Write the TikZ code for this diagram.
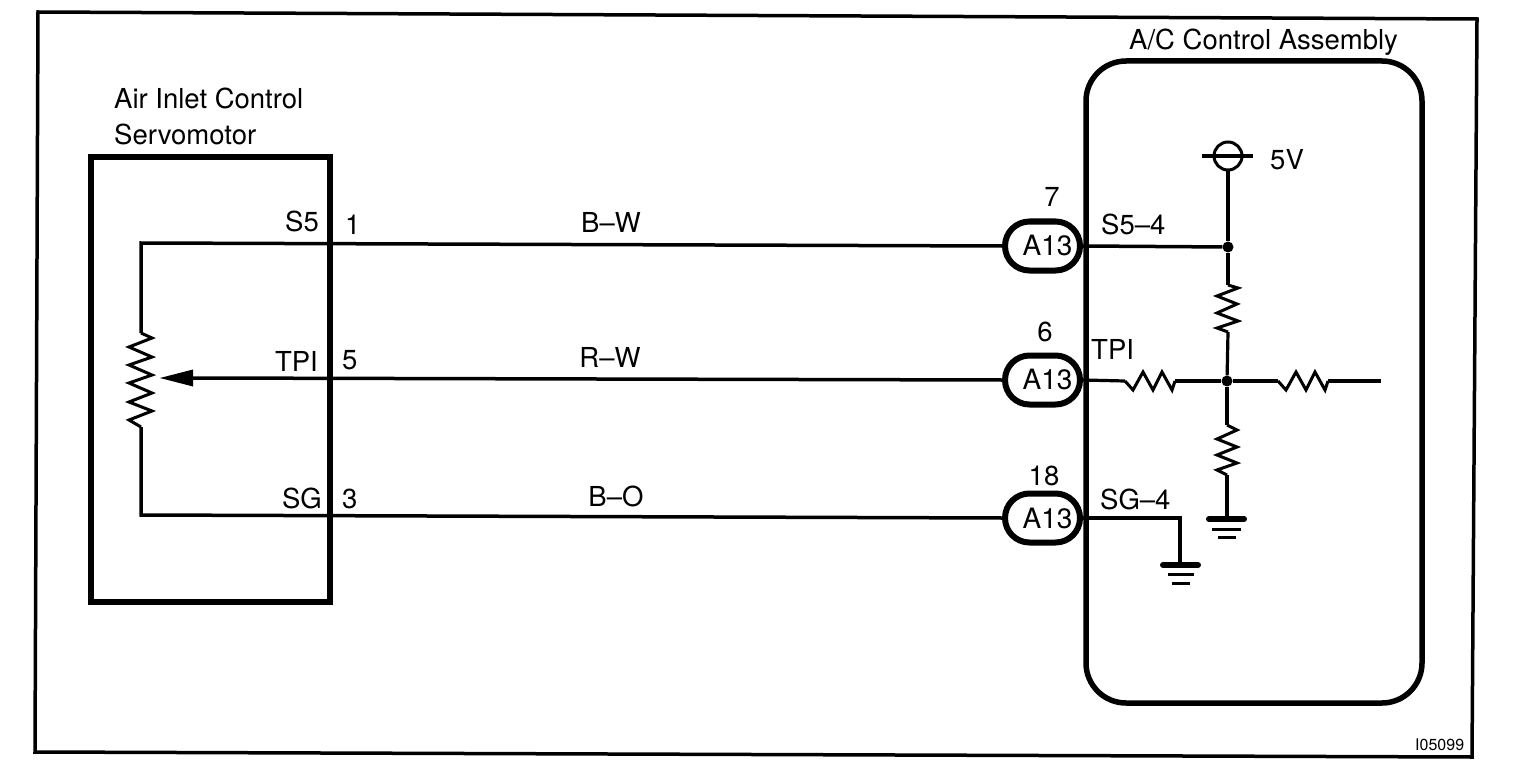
\documentclass[tikz,border=0pt]{standalone}
\usepackage{fontspec}
\setmainfont{TeX Gyre Heros}
\usetikzlibrary{shapes.misc}
\tikzset{
  framebox/.style={line width=3.5pt,line join=miter},
  heavy/.style={line width=5.5pt,outer sep=0pt},
  wire/.style={line width=3.5pt},
  thin wire/.style={line width=3.2pt,line join=miter},
  zig/.style={line width=3pt,line join=miter},
  pill/.style={rounded rectangle,draw,line width=6pt,fill=white,minimum width=75pt,minimum height=49pt,inner sep=0pt,font=\fontsize{28}{30}\selectfont},
  lab/.style={inner sep=0pt,yshift=-1.2pt,font=\fontsize{27.5}{30}\selectfont},
  dotn/.style={circle,fill=black,inner sep=0pt,minimum size=11pt},
  gbar/.style={line width=6pt,line cap=round},
  gbar2/.style={line width=3pt}
}
\begin{document}
\begin{tikzpicture}[x=1pt,y=-1pt]
\useasboundingbox (0,0) rectangle (1520,778);
\fill[white] (0,0) rectangle (1520,778);
% outer frame
\draw[framebox] (38,12) -- (1477,19) -- (1472,757) -- (35,752) -- cycle;
% boxes
\node[draw,heavy,rectangle,inner sep=0pt,anchor=north west,minimum width=239pt,minimum height=445pt] (servo) at (91,157) {};
\node[draw,heavy,rounded corners=40pt,inner sep=0pt,anchor=north west,minimum width=336pt,minimum height=642pt] (acu) at (1086,61) {};
% pills
\node[pill] (p1) at (1042.5,246) {\hspace*{10pt}A13};
\node[pill] (p2) at (1042.5,380) {\hspace*{10pt}A13};
\node[pill] (p3) at (1042.5,518) {\hspace*{10pt}A13};
% left loop
\coordinate (s5l) at (141,243);
\coordinate (tpil) at (193,378);
\coordinate (sgl) at (141,515);
\coordinate (pt) at (141,333);
\coordinate (pb) at (141,427);
\draw[wire] (pt) -- (s5l) -- (p1.west);
\draw[wire] (tpil) -- (p2.west);
\draw[wire] (pb) -- (sgl) -- (p3.west);
\draw[zig] (pt) -- (152,338) -- (129,347) -- (152,357) -- (129,365) -- (152,375) -- (129,383) -- (152,393) -- (129,402) -- (152,411) -- (129,420) -- (pb);
\fill (160,378) -- (193,369.5) -- (193,386.5) -- cycle;
% right circuit
\node[dotn] (j1) at (1228,247) {};
\node[dotn] (j2) at (1227,381) {};
\node[circle,draw,line width=3pt,minimum size=28pt,inner sep=0pt] (vcc) at (1228,156) {};
\coordinate (vl) at (1202,156);
\coordinate (vr) at (1253,156);
\draw[thin wire] (vl) -- (vr);
\draw[wire] (p1.east) -- (j1);
\draw[thin wire] (vcc.south) -- (j1);
\coordinate (r1a) at (1228,285);
\coordinate (r1b) at (1228,332);
\draw[thin wire] (j1) -- (r1a);
\draw[zig] (r1a) -- (1238,288) -- (1217,296) -- (1237,304) -- (1217,313) -- (1238,321) -- (1217,328) -- (r1b);
\draw[thin wire] (r1b) -- (j2);
\coordinate (r2a) at (1125,381);
\coordinate (r2b) at (1175,381);
\draw[thin wire] (p2.east) -- (r2a);
\draw[zig] (r2a) -- (1133,390) -- (1143,372) -- (1153,390) -- (1162,372) -- (1172,390) -- (r2b);
\draw[thin wire] (r2b) -- (j2);
\coordinate (r3a) at (1278,381);
\coordinate (r3b) at (1328,381);
\coordinate (rend) at (1381,381);
\draw[thin wire] (j2) -- (r3a);
\draw[zig] (r3a) -- (1286,390) -- (1296,372) -- (1306,390) -- (1315,372) -- (1325,390) -- (r3b);
\draw[thin wire] (r3b) -- (rend);
\coordinate (r4a) at (1227,425);
\coordinate (r4b) at (1227,475);
\coordinate (g1) at (1227,519);
\draw[thin wire] (j2) -- (r4a);
\draw[zig] (r4a) -- (1237,430) -- (1217,439) -- (1237,447) -- (1217,455) -- (1237,463) -- (1217,470) -- (r4b);
\draw[thin wire] (r4b) -- (g1);
\draw[gbar] (1209,519) -- (1244,519);
\draw[gbar2] (1212,529) -- (1241,529);
\draw[gbar2] (1218,537) -- (1236,537);
\coordinate (g2c) at (1180,518);
\coordinate (g2) at (1180,565);
\draw[thin wire] (p3.east) -- (g2c) -- (g2);
\draw[gbar] (1163,565) -- (1198,565);
\draw[gbar2] (1168,574) -- (1194,574);
\draw[gbar2] (1172,583) -- (1190,583);
% labels
\node[lab,anchor=base west] (t1) at (114,107) {Air Inlet Control};
\node[lab,anchor=base west] (t2) at (114,143) {Servomotor};
\node[lab,anchor=base west] (t3) at (1129,48) {A/C Control Assembly};
\node[lab,anchor=base east] (t4) at (319,230) {S5};
\node[lab,anchor=base west] (t5) at (345,233) {1};
\node[lab,anchor=base east] (t6) at (318,370) {TPI};
\node[lab,anchor=base west] (t7) at (342,368) {5};
\node[lab,anchor=base east] (t8) at (322,507) {SG};
\node[lab,anchor=base west] (t9) at (342,507) {3};
\node[lab,anchor=base] (t10) at (611,231) {B--W};
\node[lab,anchor=base] (t11) at (610,366) {R--W};
\node[lab,anchor=base] (t12) at (616,505) {B--O};
\node[lab,anchor=base] (t13) at (1052,205) {7};
\node[lab,anchor=base] (t14) at (1045,340) {6};
\node[lab,anchor=base] (t15) at (1044,484) {18};
\node[lab,anchor=base west] (t16) at (1101,233) {S5--4};
\node[lab,anchor=base west] (t17) at (1091,358) {TPI};
\node[lab,anchor=base west] (t18) at (1100,508) {SG--4};
\node[lab,anchor=base west] (t19) at (1270,168) {5V};
\node[inner sep=0pt,anchor=base west,font=\fontsize{16}{18}\selectfont] (t20) at (1415,750) {I05099};
\end{tikzpicture}
\end{document}
